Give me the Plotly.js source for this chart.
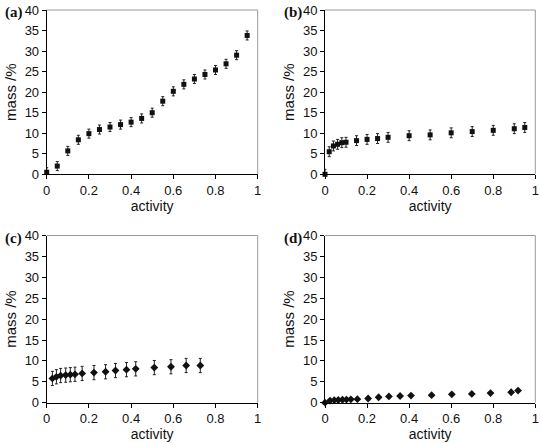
<!DOCTYPE html>
<html><head><meta charset="utf-8">
<script src="https://cdn.plot.ly/plotly-3.0.1.min.js"></script>
<style>html,body{margin:0;padding:0;background:#fff}#chart{width:540px;height:443px}</style>
</head><body><div id="chart"></div>
<script>
// Panel (a)
const xA = [0, 0.05, 0.1, 0.15, 0.2, 0.25, 0.3, 0.35, 0.4, 0.45, 0.5, 0.55, 0.6, 0.65, 0.7, 0.75, 0.8, 0.85, 0.9, 0.95];
const yA = [0.5, 2.0, 5.7, 8.4, 9.9, 10.9, 11.5, 12.1, 12.7, 13.6, 15.0, 17.8, 20.2, 21.9, 23.2, 24.3, 25.4, 26.9, 29.0, 33.8];
const errA = 1.1;
// Panel (b)
const xB = [0, 0.02, 0.04, 0.06, 0.08, 0.1, 0.15, 0.2, 0.25, 0.3, 0.4, 0.5, 0.6, 0.7, 0.8, 0.9, 0.95];
const yB = [0, 5.5, 6.9, 7.3, 7.7, 7.8, 8.2, 8.5, 8.7, 9.0, 9.4, 9.6, 10.1, 10.4, 10.7, 11.1, 11.4];
const errB = 1.2;
// Panel (c)
const xC = [0.027, 0.046, 0.066, 0.09, 0.112, 0.134, 0.168, 0.224, 0.279, 0.326, 0.378, 0.422, 0.51, 0.589, 0.661, 0.728];
const yC = [5.8, 6.2, 6.5, 6.6, 6.7, 6.8, 7.0, 7.2, 7.4, 7.7, 7.9, 8.1, 8.4, 8.6, 8.9, 8.9];
const errC = 1.7;
// Panel (d)
const xD = [0, 0.024, 0.044, 0.063, 0.083, 0.102, 0.123, 0.154, 0.205, 0.255, 0.304, 0.357, 0.409, 0.507, 0.603, 0.698, 0.787, 0.885, 0.918];
const yD = [0, 0.5, 0.6, 0.65, 0.7, 0.75, 0.8, 0.85, 1.0, 1.3, 1.5, 1.6, 1.7, 1.8, 2.0, 2.1, 2.3, 2.5, 2.9];

const panelLabels = ['(a)', '(b)', '(c)', '(d)'];
const xTitle = 'activity';
const yTitle = 'mass /%';

const FONT = 'Liberation Sans, Arial, sans-serif';
function trace(x, y, err, sym, xa, ya) {
  const t = {x: x, y: y, type: 'scatter', mode: 'markers', xaxis: xa, yaxis: ya,
    marker: {symbol: sym, size: 5, color: '#111'}, showlegend: false, cliponaxis: false};
  if (err) t.error_y = {type: 'constant', value: err, color: '#222', thickness: 1, width: 1.5};
  return t;
}
const data = [
  trace(xA, yA, errA, 'square', 'x', 'y'),
  trace(xB, yB, errB, 'square', 'x2', 'y2'),
  trace(xC, yC, errC, 'diamond', 'x3', 'y3'),
  trace(xD, yD, 0, 'diamond', 'x4', 'y4')
];
data[2].marker.size = 6; data[3].marker.size = 6;

function xax(dom, anchor) {
  return {domain: dom, anchor: anchor, range: [0, 1], dtick: 0.2, ticklabeloverflow: 'allow',
    showline: true, linecolor: '#000', linewidth: 1, ticks: 'outside', ticklen: 4, tickcolor: '#000',
    showgrid: false, zeroline: false, tickfont: {family: FONT, size: 13, color: '#111'},
    title: {text: xTitle, font: {family: FONT, size: 14, color: '#111'}, standoff: 3}, automargin: false};
}
function yax(dom, anchor) {
  return {domain: dom, anchor: anchor, range: [0, 40], dtick: 5,
    showline: true, linecolor: '#000', linewidth: 1, ticks: 'outside', ticklen: 4, tickcolor: '#000',
    showgrid: false, zeroline: false, tickfont: {family: FONT, size: 13, color: '#111'},
    title: {text: yTitle, font: {family: FONT, size: 15, color: '#111'}, standoff: 4}, automargin: false};
}
const W = 540, H = 443;
const colL = [46.7 / W, 257.7 / W], colR = [325 / W, 535.3 / W];
const rowT = [(H - 174.3) / H, (H - 10) / H], rowB = [(H - 402.7) / H, (H - 235.5) / H];

const shapes = [];
['x', 'x2', 'x3', 'x4'].forEach((xa, i) => {
  const ya = ['y', 'y2', 'y3', 'y4'][i];
  shapes.push({type: 'line', xref: xa + ' domain', yref: ya + ' domain', x0: 0, x1: 1, y0: 1, y1: 1, line: {color: '#999', width: 1}});
  shapes.push({type: 'line', xref: xa + ' domain', yref: ya + ' domain', x0: 1, x1: 1, y0: 0, y1: 1, line: {color: '#999', width: 1}});
});
const labelPos = [[3, 12], [282, 12], [3, 238], [282, 238]];
const annotations = panelLabels.map((t, i) => ({
  text: '<b>' + t + '</b>', xref: 'paper', yref: 'paper', x: labelPos[i][0] / W, y: 1 - labelPos[i][1] / H,
  xanchor: 'left', yanchor: 'middle', showarrow: false,
  font: {family: 'Liberation Serif, Times New Roman, serif', size: 15, color: '#111'}
}));

const layout = {
  width: W, height: H, margin: {l: 0, r: 0, t: 0, b: 0},
  paper_bgcolor: '#fff', plot_bgcolor: '#fff',
  xaxis: xax(colL, 'y'), yaxis: yax(rowT, 'x'),
  xaxis2: xax(colR, 'y2'), yaxis2: yax(rowT, 'x2'),
  xaxis3: xax(colL, 'y3'), yaxis3: yax(rowB, 'x3'),
  xaxis4: xax(colR, 'y4'), yaxis4: yax(rowB, 'x4'),
  shapes: shapes, annotations: annotations
};
Plotly.newPlot('chart', data, layout, {displayModeBar: false, staticPlot: true});
</script></body></html>
